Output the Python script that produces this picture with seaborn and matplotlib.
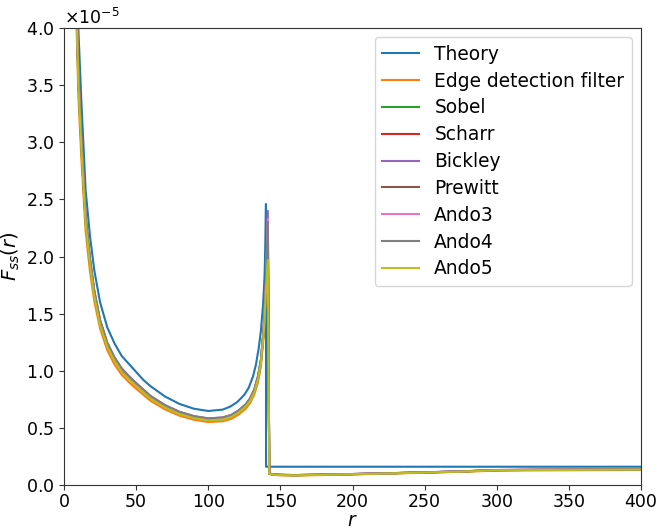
import numpy as np
import pandas as pd
import matplotlib
matplotlib.use("Agg")
import matplotlib.pyplot as plt
import seaborn as sns
from matplotlib.ticker import ScalarFormatter

SCALE = 1e-5

# Theory curve (values in units of 1e-5)
r_theory = [6, 7, 8, 9, 10, 12, 15, 18, 21, 25, 30, 35, 40, 45, 50, 55, 60, 70, 80, 90,
            100, 110, 115, 120, 125, 128, 131, 133, 135, 136.5, 138, 139, 139.6, 140, 140.05,
            150, 200, 250, 300, 350, 400]
theory = [7.0, 5.9, 5.05, 4.45, 3.98, 3.37, 2.58, 2.18, 1.88, 1.6, 1.38, 1.24, 1.13, 1.06,
          0.99, 0.92, 0.865, 0.775, 0.71, 0.668, 0.648, 0.66, 0.685, 0.725, 0.79, 0.85, 0.95,
          1.05, 1.2, 1.35, 1.58, 1.82, 2.1, 2.46, 0.16, 0.16, 0.16, 0.16, 0.16, 0.16, 0.16]

# Filter curves (values in units of 1e-5)
r_filter = [6, 8, 10, 12, 15, 18, 21, 25, 30, 35, 40, 45, 50, 60, 70, 80, 90, 100, 110, 116,
            121, 126, 129, 132, 134.5, 136.5, 138.5, 140, 141.3, 142.3, 145, 150, 160, 175,
            200, 225, 250, 275, 300, 325, 350, 375, 400]

edge = [6.0, 4.33, 3.40, 2.87, 2.22, 1.87, 1.61, 1.37, 1.18, 1.055, 0.965, 0.90, 0.843, 0.737,
        0.662, 0.607, 0.571, 0.551, 0.558, 0.579, 0.616, 0.668, 0.717, 0.795, 0.90, 1.04, 1.31,
        1.68, 2.05, 0.095, 0.088, 0.085, 0.083, 0.086, 0.092, 0.100, 0.107, 0.115, 0.126,
        0.128, 0.129, 0.130, 0.131]
sobel = [6.2, 4.5, 3.52, 2.97, 2.3, 1.93, 1.66, 1.41, 1.215, 1.09, 0.995, 0.93, 0.87, 0.76,
         0.682, 0.625, 0.588, 0.568, 0.576, 0.598, 0.636, 0.69, 0.74, 0.82, 0.93, 1.07, 1.35,
         1.72, 2.12, 0.100, 0.092, 0.088, 0.086, 0.089, 0.095, 0.102, 0.110, 0.118, 0.130,
         0.132, 0.133, 0.135, 0.136]
scharr = [6.28, 4.56, 3.57, 3.01, 2.33, 1.96, 1.685, 1.43, 1.233, 1.106, 1.01, 0.944, 0.883,
          0.771, 0.692, 0.634, 0.597, 0.577, 0.585, 0.607, 0.646, 0.70, 0.751, 0.832, 0.944,
          1.085, 1.37, 1.75, 2.20, 0.100, 0.092, 0.088, 0.086, 0.089, 0.095, 0.102, 0.110,
          0.118, 0.130, 0.132, 0.133, 0.135, 0.136]
bickley = [6.35, 4.6, 3.6, 3.04, 2.36, 1.98, 1.70, 1.445, 1.245, 1.117, 1.02, 0.953, 0.892,
           0.779, 0.699, 0.641, 0.603, 0.583, 0.591, 0.613, 0.652, 0.707, 0.758, 0.84, 0.953,
           1.095, 1.38, 1.78, 2.40, 0.100, 0.093, 0.089, 0.087, 0.090, 0.096, 0.103, 0.111,
           0.119, 0.131, 0.133, 0.134, 0.136, 0.137]
prewitt = [6.28, 4.56, 3.57, 3.01, 2.33, 1.96, 1.685, 1.43, 1.233, 1.106, 1.01, 0.944, 0.883,
           0.771, 0.692, 0.634, 0.597, 0.577, 0.585, 0.607, 0.646, 0.70, 0.751, 0.832, 0.944,
           1.085, 1.37, 1.76, 2.25, 0.100, 0.093, 0.089, 0.087, 0.090, 0.096, 0.103, 0.111,
           0.119, 0.131, 0.133, 0.134, 0.136, 0.137]
ando3 = [6.3, 4.58, 3.58, 3.02, 2.34, 1.97, 1.69, 1.437, 1.24, 1.11, 1.015, 0.948, 0.887,
         0.775, 0.695, 0.637, 0.600, 0.580, 0.588, 0.610, 0.649, 0.703, 0.754, 0.836, 0.948,
         1.09, 1.375, 1.77, 2.33, 0.100, 0.093, 0.089, 0.087, 0.090, 0.096, 0.103, 0.111,
         0.119, 0.131, 0.133, 0.134, 0.136, 0.137]
ando4 = [6.35, 4.6, 3.6, 3.04, 2.36, 1.98, 1.70, 1.445, 1.245, 1.117, 1.02, 0.953, 0.892,
         0.779, 0.699, 0.641, 0.603, 0.583, 0.591, 0.613, 0.652, 0.707, 0.758, 0.84, 0.953,
         1.095, 1.38, 1.77, 2.30, 0.100, 0.093, 0.089, 0.087, 0.090, 0.096, 0.103, 0.111,
         0.119, 0.131, 0.133, 0.134, 0.136, 0.137]
ando5 = [6.15, 4.47, 3.5, 2.95, 2.29, 1.92, 1.65, 1.40, 1.21, 1.085, 0.99, 0.925, 0.866,
         0.756, 0.678, 0.621, 0.585, 0.565, 0.573, 0.595, 0.633, 0.686, 0.736, 0.815, 0.925,
         1.065, 1.34, 1.70, 1.97, 0.098, 0.090, 0.087, 0.085, 0.088, 0.094, 0.101, 0.109,
         0.117, 0.129, 0.131, 0.132, 0.134, 0.135]

labels = ["Theory", "Edge detection filter", "Sobel", "Scharr", "Bickley", "Prewitt",
          "Ando3", "Ando4", "Ando5"]
filter_series = [edge, sobel, scharr, bickley, prewitt, ando3, ando4, ando5]

frames = [pd.DataFrame({"r": r_theory, "F": np.array(theory) * SCALE, "method": labels[0]})]
for name, vals in zip(labels[1:], filter_series):
    frames.append(pd.DataFrame({"r": r_filter, "F": np.array(vals) * SCALE, "method": name}))
df = pd.concat(frames, ignore_index=True)

plt.rcParams["font.family"] = ["DejaVu Sans"]
plt.rcParams["font.size"] = 12
plt.rcParams["axes.edgecolor"] = "#333333"
plt.rcParams["xtick.color"] = "#333333"
plt.rcParams["ytick.color"] = "#333333"
plt.rcParams["xtick.labelcolor"] = "black"
plt.rcParams["ytick.labelcolor"] = "black"

fig = plt.figure(figsize=(6.57, 5.30), dpi=100)
ax = fig.add_axes([0.0974, 0.0849, 0.8783, 0.8621])

palette = sns.color_palette("tab10", 9)
sns.lineplot(data=df, x="r", y="F", hue="method", hue_order=labels, palette=palette,
             estimator=None, sort=False, linewidth=1.5, ax=ax)

ax.set_xlim(0, 400)
ax.set_ylim(0, 4e-5)
ax.set_xticks(np.arange(0, 401, 50))
ax.set_yticks(np.arange(0, 4.01e-5, 0.5e-5))
fmt = ScalarFormatter(useMathText=True)
fmt.set_powerlimits((-3, 3))
ax.yaxis.set_major_formatter(fmt)
ax.yaxis.get_offset_text().set_fontsize(12.5)
ax.tick_params(labelsize=12.5)
ax.tick_params(axis="x", pad=2.5)
ax.set_xlabel(r"$r$", fontsize=13.5, labelpad=0)
ax.set_ylabel(r"$F_{ss}(r)$", fontsize=14, labelpad=3)

handles, lbls = ax.get_legend_handles_labels()
ax.legend(handles, lbls, loc="upper right", fontsize=13.4, labelspacing=0.42, frameon=True)

fig.savefig("out.png", dpi=100)
